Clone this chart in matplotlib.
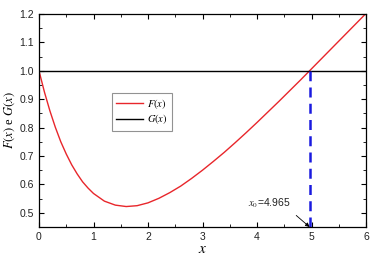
import matplotlib
matplotlib.use("Agg")
import matplotlib.pyplot as plt
from matplotlib.ticker import MultipleLocator

# valori
x_vals = [0.0, 0.1, 0.2, 0.3, 0.4, 0.5, 0.6, 0.7, 0.8, 0.9, 1.0, 1.2, 1.4, 1.6, 1.8,
          2.0, 2.2, 2.4, 2.6, 2.8, 3.0, 3.2, 3.4, 3.6, 3.8, 4.0, 4.2, 4.4, 4.6,
          4.8, 5.0, 5.2, 5.4, 5.6, 5.8, 6.0]
F_vals = [1.000, 0.925, 0.859, 0.801, 0.750, 0.707, 0.669, 0.637, 0.609, 0.587,
          0.568, 0.541, 0.527, 0.522, 0.525, 0.535, 0.551, 0.571, 0.594, 0.621,
          0.650, 0.681, 0.713, 0.747, 0.782, 0.818, 0.855, 0.892, 0.930, 0.968,
          1.007, 1.046, 1.085, 1.124, 1.163, 1.202]
G_level = 1.0
x0 = 4.965

plt.rcParams['mathtext.fontset'] = 'stix'
plt.rcParams['font.family'] = 'Liberation Sans'

fig = plt.figure(figsize=(3.75, 2.6), dpi=100)
ax = fig.add_axes([0.104, 0.127, 0.872, 0.819])

ax.plot(x_vals, F_vals, color='#e8262b', lw=1.0, label=r'$F(x)$')
ax.axhline(G_level, color='black', lw=1.0, label=r'$G(x)$')
ax.plot([x0, x0], [0.45, G_level], color='#1a1adf', lw=1.8, ls=(0, (4, 2.5)))

ax.annotate(r'$x_0$=4.965', xy=(x0, 0.45), xytext=(4.22, 0.532),
            fontsize=7.5, ha='center', va='center', color='#222222',
            arrowprops=dict(arrowstyle='-|>', color='black', lw=0.6,
                            mutation_scale=6, shrinkA=3, shrinkB=0,
                            relpos=(0.93, 0.2)))

ax.set_xlim(0, 6)
ax.set_ylim(0.45, 1.2)
ax.xaxis.set_major_locator(MultipleLocator(1))
ax.xaxis.set_minor_locator(MultipleLocator(0.5))
ax.yaxis.set_major_locator(MultipleLocator(0.1))
ax.yaxis.set_minor_locator(MultipleLocator(0.05))
ax.set_yticks([0.5, 0.6, 0.7, 0.8, 0.9, 1.0, 1.1, 1.2])
ax.tick_params(which='both', direction='in', top=True, right=True, labelsize=7.5,
               labelcolor='#222222')
ax.tick_params(which='major', length=3.5, width=0.8)
ax.tick_params(which='minor', length=2, width=0.6)
for s in ax.spines.values():
    s.set_linewidth(0.9)

ax.set_xlabel(r'$x$', fontsize=11, labelpad=0)
ax.set_ylabel(r'$F(x)$ e $G(x)$', fontsize=9, family='Liberation Serif', labelpad=2)

leg = ax.legend(loc='upper left', bbox_to_anchor=(0.223, 0.629), fontsize=7.5,
                frameon=True, fancybox=False, edgecolor='#777777',
                handlelength=2.6, handletextpad=0.4, borderpad=0.4,
                labelspacing=0.15, borderaxespad=0)
leg.get_frame().set_linewidth(0.8)

fig.savefig('out.png', dpi=100)
